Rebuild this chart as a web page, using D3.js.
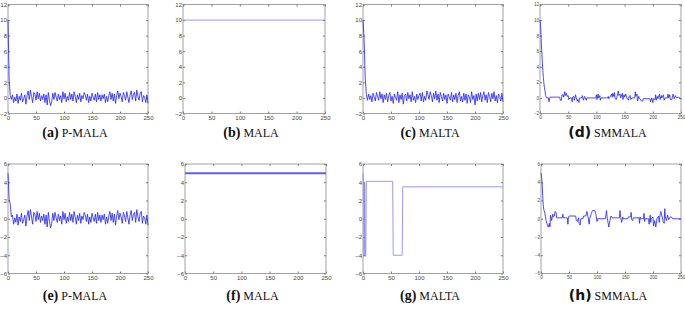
<!DOCTYPE html>
<html>
<head>
<meta charset="utf-8">
<script src="https://cdn.jsdelivr.net/npm/d3@7"></script>
<style>
  body { margin: 0; background: #fff; }
  svg { display: block; }
  .tick text { fill: #444; font-family: "Liberation Sans", Arial, sans-serif; }
  .tick line { stroke: #777; }
</style>
</head>
<body>
<script>
// ================= DATA =================
const xTicks = [0, 50, 100, 150, 200, 250]
const yTicksTop = [-2, 0, 2, 4, 6, 8, 10, 12]
const yTicksBottom = [-6, -4, -2, 0, 2, 4, 6]

// trace values, one every 2 iterations (x = 0, 2, 4 ... 250)
const pmalaTop = [
  10, 2.5, 0.3, -0.2, 0.4, -0.6, 0.1, -0.4, 0.5, -0.7,
  0.2, -0.3, 0.6, -0.5, -0.1, 0.4, -0.8, 0.3, 0.9, -0.2,
  1.0, 0.2, -0.6, 0.7, 0.5, -0.3, 0.8, -0.1, 0.6, -0.4,
  0.3, -0.2, 0.5, -0.6, 0.4, -0.9, 0.7, -0.3, -1.0, -0.5,
  0.6, -0.2, 0.7, 0.1, -0.4, 0.5, -0.2, 0.3, -0.6, 0.8,
  -0.1, 0.6, -0.5, 0.2, -0.3, 0.7, -0.2, 0.5, -0.4, 0.8,
  0.2, -0.6, 0.4, -0.2, 0.6, -0.5, 0.3, -0.1, 0.7, 0.4,
  -0.3, 0.5, -0.6, 0.2, -0.4, 0.6, 0.1, -0.3, 0.5, -0.5,
  0.7, -0.2, 0.4, -0.4, 0.4, -0.1, 0.5, -0.6, 0.2, -0.5,
  0.3, 0.8, -0.2, 0.6, -0.4, 0.5, -0.7, 0.3, 0.9, -0.1,
  0.6, 0.2, -0.5, 0.7, 0.3, -0.3, 0.8, 0.1, -0.6, 0.4,
  0.9, -0.2, 0.5, 0.7, -0.4, 1.0, 0.2, -0.3, 0.6, 0.8,
  -0.5, 0.3, 0.1, -0.6, 0.4, -0.7
]

const maltaTop = [
  10, 7.5, 2.5, 0.4, -0.3, 0.5, -0.2, 0.3, -0.5, 0.6,
  0.1, -0.4, 0.7, 0.2, -0.3, 0.8, -0.1, 0.5, -0.6, 0.4,
  -0.2, 0.6, -0.5, 0.3, 0.7, -0.4, 0.2, -0.7, 0.5, 0.1,
  -0.3, 0.8, -0.6, 0.4, -0.2, 0.6, -0.8, 0.3, 0.5, -0.4,
  0.7, -0.1, 0.4, -0.5, 0.8, -0.3, 0.2, -0.6, 0.5, -0.2,
  0.3, 0.6, -0.4, 0.7, -0.5, 0.2, -0.3, 0.9, 0.4, -0.2,
  0.8, 0.3, -0.5, 0.6, -0.1, 0.9, -0.3, 0.5, -0.6, 0.7,
  0.2, -0.4, 0.6, -0.2, 0.4, -0.7, 0.5, 0.1, -0.3, 0.7,
  -0.5, 0.4, -0.2, 0.6, -0.6, 0.3, 0.8, -0.4, 0.2, -0.5,
  0.6, -0.3, 0.5, -0.7, 0.4, 0.1, -0.6, 0.8, -0.2, 0.3,
  -0.9, 0.5, -0.4, 0.6, -0.2, 0.7, -0.5, 0.3, 0.8, -0.3,
  0.4, -0.6, 0.7, 0.2, -0.5, 0.6, -0.1, 0.8, -0.4, 0.3,
  -0.6, 0.5, 0.2, -0.4, 0.6, -0.5
]

const pmalaBottom = [
  5, 2.1, 1.6, 0.2, 0.4, -0.6, 0.1, -0.4, 0.5, -0.7,
  0.2, -0.3, 0.6, -0.5, -0.1, 0.4, -0.8, 0.3, 0.9, -0.2,
  1.0, 0.2, -0.6, 0.7, 0.5, -0.3, 0.8, -0.1, 0.6, -0.4,
  0.3, -0.2, 0.5, -0.6, 0.4, -0.9, 0.7, -0.3, -1.0, -0.5,
  0.6, -0.2, 0.7, 0.1, -0.4, 0.5, -0.2, 0.3, -0.6, 0.8,
  -0.1, 0.6, -0.5, 0.2, -0.3, 0.7, -0.2, 0.5, -0.4, 0.8,
  0.2, -0.6, 0.4, -0.2, 0.6, -0.5, 0.3, -0.1, 0.7, 0.4,
  -0.3, 0.5, -0.6, 0.2, -0.4, 0.6, 0.1, -0.3, 0.5, -0.5,
  0.7, -0.2, 0.4, -0.4, 0.4, -0.1, 0.5, -0.6, 0.2, -0.5,
  0.3, 0.8, -0.2, 0.6, -0.4, 0.5, -0.7, 0.3, 0.9, -0.1,
  0.6, 0.2, -0.5, 0.7, 0.3, -0.3, 0.8, 0.1, -0.6, 0.4,
  0.9, -0.2, 0.5, 0.7, -0.4, 1.0, 0.2, -0.3, 0.6, 0.8,
  -0.5, 0.3, 0.1, -0.6, 0.4, -0.7
]

// [iteration, value] for the traces with long flat (rejected) stretches
const malaTop = [[0, 10], [250, 10]]
const malaBottom = [[0, 5], [250, 5]]

const smmalaTop = [
  [0,10],[1,9.3],[2,7.6],[3,6.2],[4,4.8],[5,3.5],[6,2.6],[7,1.8],[8,1.3],[9,0.8],[10,0.3],[11,0.1],
  [12,0],[15,0],[16,-0.5],[17,0],[18,0.1],[35,0.1],[36,-0.3],[38,-0.3],[39,0.4],[41,0.4],[42,0.1],
  [44,0.8],[45,0.3],[47,0.6],[48,0.2],[50,0.3],[51,-0.2],[53,0],[56,0],[57,-0.5],[58,0.1],[60,0.2],
  [61,-0.3],[63,0.4],[64,0.1],[66,-0.4],[67,-0.2],[69,-0.6],[70,0],[74,0],[75,0.3],[77,-0.3],[79,0.2],
  [80,0.1],[82,-0.3],[83,0],[99,0],[100,0.4],[101,-0.2],[103,0.5],[104,0],[106,0.3],[107,-0.3],[108,0],
  [120,0],[121,0.2],[122,-0.1],[124,0.1],[127,0.5],[128,0.1],[129,0.6],[131,0.2],[132,0.7],[133,0],
  [135,-0.2],[136,0],[139,0.9],[140,0.3],[142,0.5],[143,0],[146,0.6],[147,-0.2],[149,0.4],[150,0.1],
  [152,0.5],[154,0],[157,-0.3],[158,0.2],[160,0.3],[161,-0.2],[163,0],[168,0],[169,0.8],[170,0.2],
  [172,0.5],[173,-0.4],[175,0.2],[176,0],[180,-0.4],[182,-0.4],[183,-0.1],[195,-0.1],[196,-0.5],[198,0],
  [200,-0.6],[201,-0.1],[204,-0.2],[205,0.4],[206,-0.3],[208,0.2],[209,-0.1],[212,0.5],[213,-0.2],
  [215,0.3],[216,0],[219,0.4],[220,-0.3],[222,0],[226,0],[227,0.5],[228,0],[230,0.4],[231,-0.2],
  [234,-0.2],[235,0.3],[236,0.5],[238,-0.1],[240,0.3],[242,0],[245,0.1],[248,0],[250,-0.2]
]

const maltaBottom = [
  [0,5],[1,3.8],[2,-4.1],[3,3.9],[4,-4.1],[5,-4.1],[6,4.1],[53,4.1],[54,-4.0],[70,-4.0],[71,3.5],[250,3.5]
]

const smmalaBottom = [
  [0,5],[1,4.6],[2,4.0],[3,2.5],[4,1.5],[5,1.0],[7,0.6],[9,-0.2],[11,-0.6],[13,-0.9],[15,-0.5],
  [16,-0.9],[17,0.4],[19,-0.2],[21,0.5],[22,0.2],[24,0.3],[25,0.8],[27,0.7],[28,0.1],[38,0.1],[39,0.5],
  [40,0.1],[47,0.1],[48,-0.6],[49,0.1],[50,0.3],[62,0.3],[63,-0.2],[65,-0.3],[67,0.1],[68,-0.5],
  [70,-0.7],[71,0],[75,0],[76,0.3],[80,0.3],[82,0.8],[84,0.2],[86,-0.6],[87,0],[90,0.6],[92,0.9],
  [96,0.9],[98,0.5],[100,-0.3],[101,0],[115,0],[117,0.9],[118,0.2],[120,-0.5],[121,-0.9],[123,-0.2],
  [125,0.3],[127,0.1],[140,0.1],[141,0.9],[142,0.3],[144,-0.4],[146,0.2],[147,0],[155,0],[156,0.2],
  [160,0.2],[161,0.7],[162,-0.1],[164,-0.2],[165,0.1],[175,0.1],[176,-0.5],[177,0.2],[178,0],[183,0],
  [184,0.6],[185,-0.3],[186,0],[192,0],[193,-0.6],[195,0.4],[196,-0.4],[197,0],[200,0.2],[201,-0.8],
  [203,-0.2],[205,-0.9],[207,0],[210,0.3],[211,-0.4],[213,0.6],[214,0.8],[216,0.3],[218,-0.3],
  [220,-0.5],[221,1.1],[222,0.2],[224,-0.2],[226,0.4],[228,-0.1],[231,0.2],[233,0.2],[235,0],[250,0]
]

const letters = ['(a)', '(b)', '(c)', '(d)', '(e)', '(f)', '(g)', '(h)']
const names = ['P-MALA', 'MALA', 'MALTA', 'SMMALA', 'P-MALA', 'MALA', 'MALTA', 'SMMALA']

//================ STRUCTURE ================

const width = 685
const height = 309
const serif = "'Liberation Serif', 'DejaVu Serif', 'Times New Roman', serif"

const every2 = arr => arr.map((v, i) => [i * 2, v])

const panels = [
  {x0: 8,   x1: 148, y0: 4.5, y1: 113.5, yTicks: yTicksTop,    data: every2(pmalaTop)},
  {x0: 183, x1: 325, y0: 4.5, y1: 113.5, yTicks: yTicksTop,    data: malaTop, light: true},
  {x0: 363, x1: 503, y0: 4.5, y1: 113.5, yTicks: yTicksTop,    data: every2(maltaTop)},
  {x0: 540, x1: 681, y0: 4.5, y1: 113.5, yTicks: yTicksTop,    data: smmalaTop, small: true},
  {x0: 8,   x1: 148, y0: 164, y1: 273.5, yTicks: yTicksBottom, data: every2(pmalaBottom)},
  {x0: 185, x1: 326, y0: 164, y1: 273.5, yTicks: yTicksBottom, data: malaBottom, thick: true},
  {x0: 363, x1: 503, y0: 164, y1: 273.5, yTicks: yTicksBottom, data: maltaBottom, light: true},
  {x0: 541, x1: 681, y0: 164, y1: 273.5, yTicks: yTicksBottom, data: smmalaBottom, small: true}
]

const svg = d3.select('body').append('svg')
  .attr('width', width)
  .attr('height', height)

panels.forEach((p, i) => {

  const yDom = d3.extent(p.yTicks)
  const x = d3.scaleLinear().domain([0, 250]).range([p.x0, p.x1])
  const y = d3.scaleLinear().domain(yDom).range([p.y1, p.y0])
  const fs = p.small ? 4.5 : 6

  const g = svg.append('g')

  g.append('g')
    .attr('transform', `translate(0,${p.y1})`)
    .call(d3.axisBottom(x).tickValues(xTicks).tickSize(-2).tickPadding(2))
    .call(a => a.selectAll('text').attr('font-size', fs))

  g.append('g')
    .attr('transform', `translate(0,${p.y0})`)
    .call(d3.axisTop(x).tickValues(xTicks).tickSize(-2).tickFormat(''))

  g.append('g')
    .attr('transform', `translate(${p.x0},0)`)
    .call(d3.axisLeft(y).tickValues(p.yTicks).tickSize(-2).tickPadding(1))
    .call(a => a.selectAll('text').attr('font-size', fs))

  g.append('g')
    .attr('transform', `translate(${p.x1},0)`)
    .call(d3.axisRight(y).tickValues(p.yTicks).tickSize(-2).tickFormat(''))

  g.selectAll('.domain').remove()

  g.append('rect')
    .attr('x', p.x0).attr('y', p.y0)
    .attr('width', p.x1 - p.x0).attr('height', p.y1 - p.y0)
    .attr('fill', 'none')
    .attr('stroke', '#8a8a8a')
    .attr('stroke-width', 0.8)

  const line = d3.line().x(d => x(d[0])).y(d => y(d[1]))

  g.append('path')
    .datum(p.data)
    .attr('d', line)
    .attr('fill', 'none')
    .attr('stroke', p.light ? '#7f7fff' : (p.thick ? '#5c5cff' : '#2020ff'))
    .attr('stroke-width', p.thick ? 2 : 0.8)
    .attr('stroke-linejoin', 'round')

  // caption
  const capY = i < 4 ? 137 : 300
  const cap = svg.append('text')
    .attr('x', (p.x0 + p.x1) / 2 - 3)
    .attr('y', capY)
    .attr('text-anchor', 'middle')
    .attr('fill', '#111')
    .style('font-family', serif)

  cap.append('tspan')
    .text(letters[i])
    .attr('font-weight', 'bold')
    .attr('font-size', 14)
    .style('font-family', p.small ? "'DejaVu Sans', sans-serif" : serif)

  cap.append('tspan')
    .text(' ' + names[i])
    .attr('font-size', 12)
    .style('font-family', serif)
})
</script>
</body>
</html>
